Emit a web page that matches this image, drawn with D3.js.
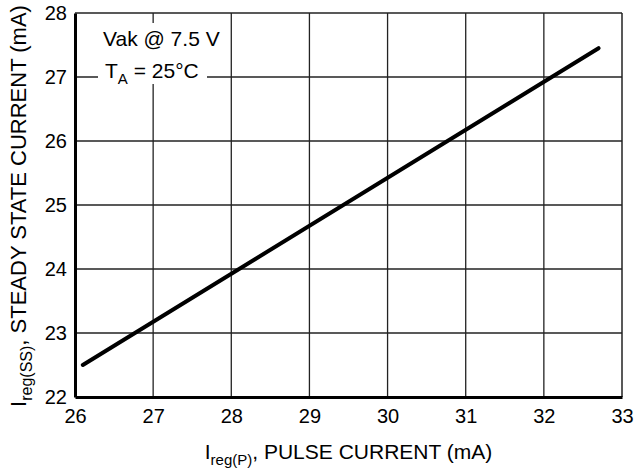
<!DOCTYPE html>
<html>
<head>
<meta charset="utf-8">
<script src="https://cdn.jsdelivr.net/npm/d3@7"></script>
<style>
  body { margin: 0; background: #fff; }
  svg { display: block; font-family: "Liberation Sans", Arial, sans-serif; }
</style>
</head>
<body>
<div id="chart"></div>
<script>
// data
var pulseCurrent = [26.1, 32.7];
var steadyCurrent = [22.5, 27.45];
var xTicks = [26, 27, 28, 29, 30, 31, 32, 33];
var yTicks = [22, 23, 24, 25, 26, 27, 28];

var width = 635, height = 474;
var plotL = 75, plotR = 622, plotT = 13, plotB = 397;

var svg = d3.select('#chart').append('svg')
  .attr('width', width)
  .attr('height', height);

var x = d3.scaleLinear().domain([26, 33]).range([plotL, plotR]);
var y = d3.scaleLinear().domain([22, 28]).range([plotB, plotT]);

// grid
svg.append('g')
  .selectAll('line')
  .data(xTicks.slice(1, -1))
  .enter().append('line')
  .attr('x1', function(d){ return x(d); })
  .attr('x2', function(d){ return x(d); })
  .attr('y1', plotT).attr('y2', plotB)
  .attr('stroke', '#222').attr('stroke-width', 1.3);

svg.append('g')
  .selectAll('line')
  .data(yTicks.slice(1, -1))
  .enter().append('line')
  .attr('y1', function(d){ return y(d); })
  .attr('y2', function(d){ return y(d); })
  .attr('x1', plotL).attr('x2', plotR)
  .attr('stroke', '#222').attr('stroke-width', 1.3);

// white box behind the note
svg.append('rect')
  .attr('x', 98).attr('y', 23)
  .attr('width', 109).attr('height', 61)
  .attr('fill', '#fff');

// frame: thin top/right, heavy left/bottom
svg.append('line').attr('x1', plotL).attr('x2', plotR).attr('y1', plotT).attr('y2', plotT)
  .attr('stroke', '#222').attr('stroke-width', 1.5);
svg.append('line').attr('x1', plotR).attr('x2', plotR).attr('y1', plotT).attr('y2', plotB)
  .attr('stroke', '#222').attr('stroke-width', 1.5);

// axes with d3, ticks hidden, labels only
var xAxis = d3.axisBottom(x).tickValues(xTicks).tickSize(0).tickPadding(12).tickFormat(d3.format('d'));
var yAxis = d3.axisLeft(y).tickValues(yTicks).tickSize(0).tickPadding(8).tickFormat(d3.format('d'));

var gx = svg.append('g').attr('transform', 'translate(0,' + plotB + ')').call(xAxis);
var gy = svg.append('g').attr('transform', 'translate(' + plotL + ',0)').call(yAxis);

[gx, gy].forEach(function(g){
  g.select('.domain').attr('stroke', '#000').attr('stroke-width', 3);
  g.selectAll('text')
    .attr('fill', '#000')
    .style('font-size', '20px')
    .style('font-family', '"Liberation Sans", Arial, sans-serif');
});

// the curve
var line = d3.line()
  .x(function(d){ return x(d[0]); })
  .y(function(d){ return y(d[1]); });

svg.append('path')
  .datum(d3.zip(pulseCurrent, steadyCurrent))
  .attr('d', line)
  .attr('fill', 'none')
  .attr('stroke', '#000')
  .attr('stroke-width', 4)
  .attr('stroke-linecap', 'round');

// note
var note = svg.append('g').style('font-size', '21px').attr('fill', '#000');
note.append('text').attr('x', 103).attr('y', 46).text('Vak @ 7.5 V');
var t2 = note.append('text').attr('x', 105).attr('y', 78);
t2.append('tspan').text('T');
t2.append('tspan').attr('dy', 6).style('font-size', '15px').text('A');
t2.append('tspan').attr('dy', -6).text(' = 25°C');

// axis titles
var xt = svg.append('text')
  .attr('x', (plotL + plotR) / 2).attr('y', 459)
  .attr('text-anchor', 'middle')
  .style('font-size', '21px');
xt.append('tspan').text('I');
xt.append('tspan').attr('dy', 6).style('font-size', '15px').text('reg(P)');
xt.append('tspan').attr('dy', -6).text(', PULSE CURRENT (mA)');

var yt = svg.append('text')
  .attr('transform', 'translate(26,' + 206 + ') rotate(-90)')
  .attr('text-anchor', 'middle')
  .style('font-size', '22px');
yt.append('tspan').text('I');
yt.append('tspan').attr('dy', 6).style('font-size', '16px').text('reg(SS)');
yt.append('tspan').attr('dy', -6).text(', STEADY STATE CURRENT (mA)');
</script>
</body>
</html>
